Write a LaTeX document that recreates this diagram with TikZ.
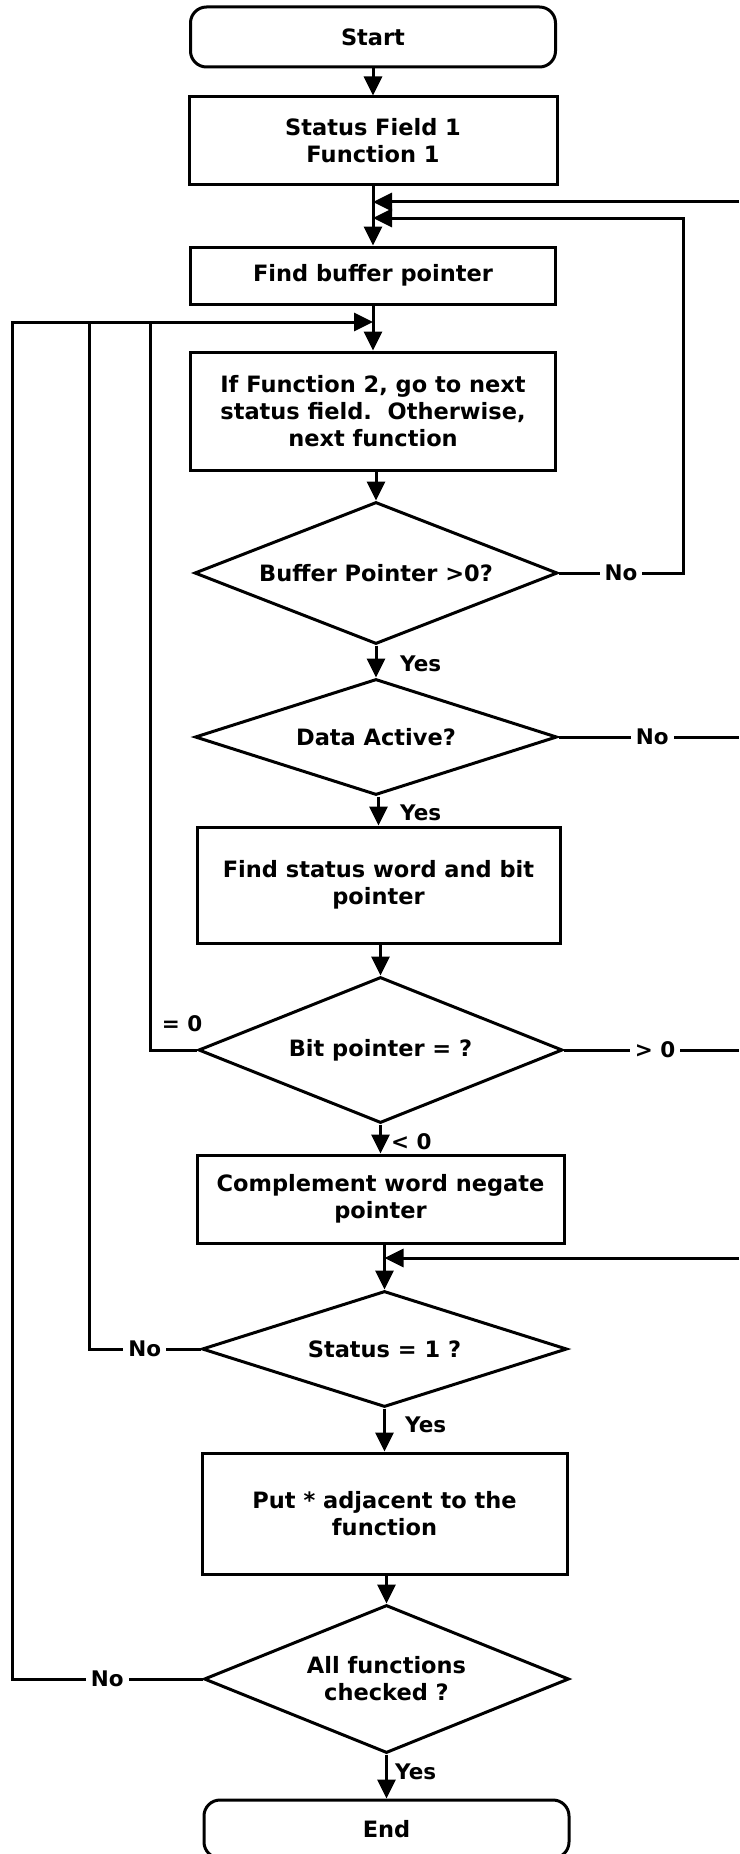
\documentclass[tikz,border=0pt]{standalone}
\usepackage{fontspec}
\setmainfont{DejaVu Sans}
\usetikzlibrary{shapes.geometric,arrows.meta}
\begin{document}
\begin{tikzpicture}[x=1pt,y=-1pt,
  every node/.style={font=\bfseries\fontsize{22.5}{27}\selectfont},
  box/.style={draw, line width=3pt, inner sep=0pt, align=center},
  term/.style={box, rounded corners=16pt},
  dec/.style={draw, diamond, aspect=3, line width=3pt, inner sep=0pt, align=center},
  lbl/.style={font=\bfseries\fontsize{21.5}{26}\selectfont, inner sep=1pt},
  onl/.style={lbl, fill=white, inner sep=5pt},
  flow/.style={line width=3pt},
  arr/.style={flow, -{Triangle[length=19pt,width=18pt]}},
]
\path[use as bounding box, fill=white] (0,0) rectangle (739,1854);
\clip (0,0) rectangle (739,1854);

% nodes
\node[term, minimum width=365pt, minimum height=60pt] (start) at (373,37) {Start};
\node[box, minimum width=368pt, minimum height=88pt] (sf) at (373,141) {Status Field 1\\Function 1};
\node[box, minimum width=365pt, minimum height=57pt] (fb) at (373,275.5) {Find buffer pointer};
\node[box, minimum width=365pt, minimum height=118pt] (iff) at (373,411) {If Function 2, go to next\\status field.\ \ Otherwise,\\next function};
\node[dec, minimum width=363pt, minimum height=142pt] (bp) at (376,573) {Buffer Pointer >0?};
\node[dec, minimum width=362pt, minimum height=116pt] (da) at (376,737) {Data Active?};
\node[box, minimum width=363pt, minimum height=116pt] (fs) at (378.5,885) {Find status word and bit\\pointer};
\node[dec, minimum width=364pt, minimum height=146pt] (bit) at (380.5,1050) {Bit pointer = ?};
\node[box, minimum width=367pt, minimum height=88pt] (cw) at (380.5,1199) {Complement word negate\\pointer};
\node[dec, minimum width=365pt, minimum height=116pt] (st) at (384.5,1349) {Status = 1 ?};
\node[box, minimum width=365pt, minimum height=121pt] (put) at (384.5,1513.5) {Put * adjacent to the\\function};
\node[dec, minimum width=365pt, minimum height=148pt] (all) at (386.5,1679) {All functions\\checked ?};
\node[term, minimum width=365pt, minimum height=58pt] (end) at (386.5,1829) {End};

% labels
\node[lbl, anchor=west] (y1) at (399,664) {Yes};
\node[lbl, anchor=west] (y2) at (399,813) {Yes};
\node[lbl, anchor=west] (lt) at (390,1142) {< 0};
\node[lbl, anchor=west] (y3) at (404,1425) {Yes};
\node[lbl, anchor=west] (y4) at (394,1772) {Yes};
\node[lbl] (eq0) at (182,1024) {= 0};

% coordinates
\coordinate (j1) at (373,202);
\coordinate (j2) at (373,218);
\coordinate (j3) at (373,322);
\coordinate (j4) at (384.5,1258);
\coordinate (e1) at (739,202);
\coordinate (e2) at (739,737);
\coordinate (e3) at (739,1050);
\coordinate (e4) at (739,1258);
\coordinate (c1) at (683,573);
\coordinate (l1) at (12,1679);
\coordinate (l2) at (89,1349);
\coordinate (l3) at (150,1050);

% main flow
\draw[arr] (start.south) -- (sf.north);
\draw[arr] (sf.south) -- (fb.north);
\draw[arr] (fb.south) -- (iff.north);
\draw[arr] (bp.north |- iff.south) -- (bp.north);
\draw[arr] (bp.south) -- (da.north);
\draw[arr] (fs.north |- da.south) -- (fs.north);
\draw[arr] (bit.north |- fs.south) -- (bit.north);
\draw[arr] (bit.south) -- (cw.north);
\draw[arr] (st.north |- cw.south) -- (st.north);
\draw[arr] (st.south) -- (put.north);
\draw[arr] (all.north |- put.south) -- (all.north);
\draw[arr] (all.south) -- (end.north);

% right side
\draw[arr] (e1) -- (j1);
\draw[arr] (bp.east) -- node[onl] (no1) {No} (c1) |- (j2);
\draw[flow] (da.east) -- node[onl, pos=0.52] (no2) {No} (e2);
\draw[flow] (bit.east) -- node[onl, pos=0.52] (gt) {> 0} (e3);
\draw[arr] (e4) -- (j4);

% left side
\draw[arr] (all.west) -- node[onl] (no5) {No} (l1) |- (j3);
\draw[flow] (st.west) -- node[onl] (no4) {No} (l2) -- (l2 |- j3);
\draw[flow] (bit.west) -- (l3) -- (l3 |- j3);
\end{tikzpicture}
\end{document}
